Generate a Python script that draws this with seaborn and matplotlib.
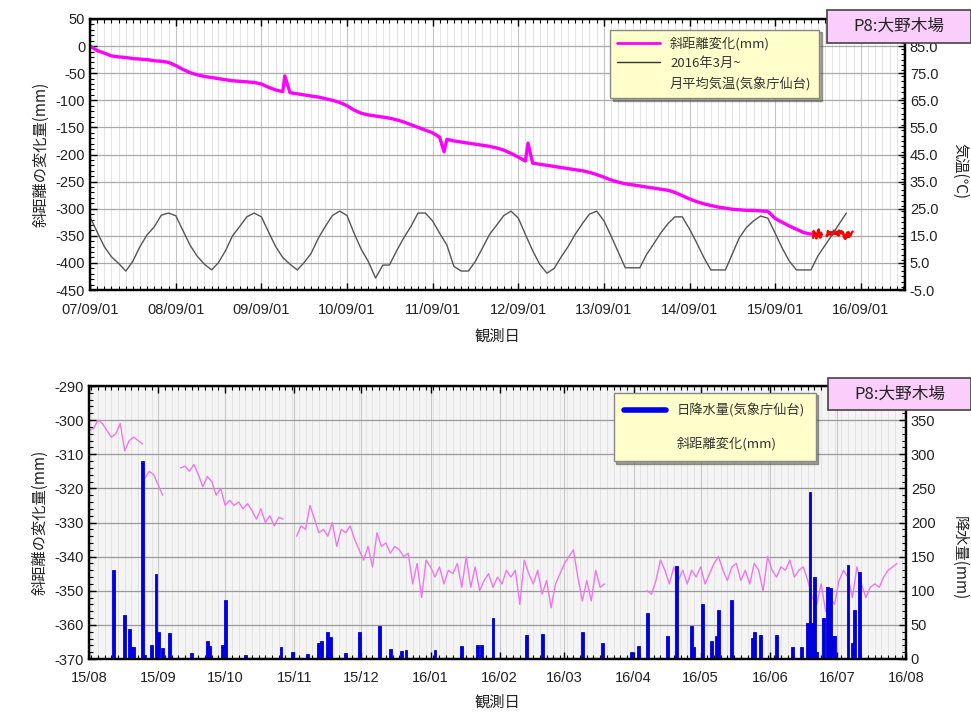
import pandas as pd
import seaborn as sns
import matplotlib
matplotlib.use("Agg")
import matplotlib.pyplot as plt
import matplotlib.dates as mdates
from matplotlib.ticker import MultipleLocator, FormatStrFormatter
from matplotlib.lines import Line2D
from matplotlib.patches import Rectangle

# ---------------- data ----------------
# top: monthly slope-distance change (mm), 2007-09 .. 2016-02
top_start = "2007-09-01"
top_disp = [0, -8, -13, -18,
            -20, -21, -23, -24, -25, -27, -28, -30, -36, -43, -49, -53,
            -56, -58, -60, -62, -64, -65, -66, -67, -70, -76, -81, -84,
            -86, -88, -90, -92, -94, -97, -100, -104, -110, -118, -124, -127,
            -129, -131, -133, -136, -140, -145, -150, -155, -160, -168, -172, -175,
            -177, -179, -181, -183, -185, -188, -192, -198, -205, -212, -216, -218,
            -220, -222, -224, -226, -228, -230, -233, -237, -242, -247, -251, -254,
            -256, -258, -260, -262, -264, -266, -270, -276, -282, -287, -291, -294,
            -297, -299, -301, -302, -303, -303, -304, -305, -318, -325, -332, -338,
            -344, -347]
# short spikes in the top record
spike_dates = ["2009-12-10", "2011-10-20", "2012-10-12"]
spike_vals = [-55, -195, -179]

# monthly mean air temperature (C), 2007-09 .. 2016-07
temp_start = "2007-09-01"
temp_c = [22.0, 16.5, 11.0, 7.3,
          4.8, 2.0, 5.5, 11.0, 15.3, 18.3, 22.6, 23.4, 22.4, 17.0, 11.5, 7.5,
          4.5, 2.4, 5.0, 9.5, 15.0, 18.5, 22.0, 23.4, 22.0, 16.5, 11.0, 7.0,
          4.5, 2.4, 5.0, 8.5, 14.0, 18.5, 22.5, 24.1, 22.5, 16.0, 10.0, 5.5,
          -0.6, 4.2, 4.2, 9.5, 14.2, 18.5, 23.4, 23.4, 20.5, 16.0, 11.6, 3.7,
          2.0, 2.0, 5.5, 10.5, 15.5, 19.0, 22.5, 24.1, 21.5, 15.5, 9.5, 4.5,
          1.2, 3.0, 7.0, 11.0, 15.5, 19.5, 23.0, 24.1, 20.5, 15.0, 9.0, 3.2,
          3.2, 3.2, 8.0, 12.0, 16.0, 19.5, 22.0, 22.0, 17.5, 12.5, 7.0, 2.4,
          2.4, 2.4, 8.0, 14.2, 18.0, 20.5, 22.3, 21.5, 16.0, 10.5, 5.6, 2.4,
          2.4, 2.4, 7.5, 11.5, 15.3, 19.5, 23.4]

# bottom: slope-distance change every 2 days, in segments (start date, values)
seg_starts = ["2015-08-01", "2015-08-26", "2015-09-11", "2015-11-02", "2016-04-07"]
seg_a = [-303, -302.5, -300, -301, -303, -305, -304, -301, -309, -306, -305, -306, -307]
seg_b = [-317, -315, -316, -319, -322]
seg_c = [-314, -313.5, -315, -313, -316, -319.5, -316.5, -318, -322, -320, -325, -323.5,
         -325, -324, -326, -324.5, -326.5, -329, -326, -330, -328, -331, -328.5, -329]
seg_d = [-334, -331, -332, -325, -329, -333, -332, -334, -330, -337, -332, -333, -331, -335,
         -338, -341, -337, -343, -333, -337, -336, -339, -337, -338, -340, -339, -348, -342,
         -352, -341, -343, -346, -343, -348, -344, -345, -342, -349, -340, -349, -343, -350,
         -347, -345, -349, -346, -348, -344, -346, -344, -354, -341, -345, -348, -344, -351,
         -347, -355, -348, -345, -342, -340, -338, -346, -353, -347, -353, -344, -349, -348]
seg_e = [-350, -351, -347, -341, -344, -348, -343, -347, -344, -348, -344, -346, -343, -348,
         -345, -342, -340, -344, -347, -343, -342, -347, -344, -348, -342, -344, -350, -340,
         -344, -346, -343, -344, -341, -346, -344, -343, -347, -352, -354, -348, -356, -352,
         -354, -347, -344, -346, -352, -343, -348, -352, -349, -348, -349, -346, -344, -343,
         -342]
segments = [seg_a, seg_b, seg_c, seg_d, seg_e]

# daily precipitation (mm)
rain_dates = ["2015-08-12", "2015-08-17", "2015-08-19", "2015-08-20", "2015-08-21", "2015-08-25",
              "2015-08-26", "2015-08-29", "2015-08-31", "2015-09-01", "2015-09-03", "2015-09-06",
              "2015-09-16", "2015-09-23", "2015-09-24", "2015-09-30", "2015-10-01", "2015-10-10",
              "2015-10-26", "2015-10-31", "2015-11-07", "2015-11-12", "2015-11-13", "2015-11-16",
              "2015-11-17", "2015-11-24", "2015-11-30", "2015-12-09", "2015-12-14", "2015-12-19",
              "2015-12-21", "2016-01-03", "2016-01-15", "2016-01-22", "2016-01-24", "2016-01-29",
              "2016-02-13", "2016-02-20", "2016-03-09", "2016-03-18", "2016-03-31", "2016-04-03",
              "2016-04-07", "2016-04-16", "2016-04-20", "2016-04-27", "2016-04-28", "2016-05-02",
              "2016-05-06", "2016-05-08", "2016-05-09", "2016-05-15", "2016-05-24", "2016-05-25",
              "2016-05-28", "2016-06-04", "2016-06-11", "2016-06-15", "2016-06-18", "2016-06-19",
              "2016-06-20", "2016-06-21", "2016-06-22", "2016-06-25", "2016-06-27", "2016-06-28",
              "2016-06-29", "2016-06-30", "2016-07-06", "2016-07-08", "2016-07-09", "2016-07-11"]
rain_mm = [131, 65, 44, 18, 18, 290, 6, 20, 125, 40, 16, 38,
           9, 27, 19, 20, 87, 6, 18, 10, 8, 23, 27, 40,
           32, 9, 40, 48, 15, 11, 13, 13, 19, 20, 20, 60,
           35, 37, 40, 23, 10, 19, 67, 33, 136, 48, 18, 80,
           27, 33, 72, 87, 31, 40, 35, 35, 18, 18, 53, 244,
           53, 120, 10, 60, 106, 104, 33, 33, 137, 23, 72, 128]

station = "P8:大野木場"

# ---------------- style ----------------
sns.set_style("ticks")
plt.rcParams['font.family'] = ['Liberation Sans', 'Noto Sans CJK JP', 'DejaVu Sans']
plt.rcParams['axes.unicode_minus'] = False
txt = "#222222"
jp = ['Noto Sans CJK JP', 'DejaVu Sans']

fig = plt.figure(figsize=(9.71, 7.15), dpi=100)

# ================= top chart =================
ax1 = fig.add_axes([90 / 971, 1 - 290 / 715, 815 / 971, 271 / 715])
axT = ax1.twinx()

top_dates = list(pd.date_range(top_start, periods=len(top_disp), freq="MS"))
top_df = pd.DataFrame({"date": top_dates + list(pd.to_datetime(spike_dates)),
                       "disp": top_disp + spike_vals}).sort_values("date")
sns.lineplot(data=top_df, x="date", y="disp", ax=ax1, color="#FF00FF", lw=2.4, sort=True)

# recent data (red) taken from the detailed record
red_d = pd.date_range(seg_starts[3], periods=len(seg_d), freq="2D")
red_mask = red_d >= pd.Timestamp("2016-02-10")
sns.lineplot(x=red_d[red_mask], y=pd.Series(seg_d)[red_mask].values, ax=ax1,
             color="#FF0000", lw=1.6)
sns.lineplot(x=pd.date_range(seg_starts[4], periods=len(seg_e), freq="2D"), y=seg_e,
             ax=ax1, color="#FF0000", lw=1.6)

temp_dates = pd.date_range(temp_start, periods=len(temp_c), freq="MS")
sns.lineplot(x=temp_dates, y=temp_c, ax=axT, color="#555555", lw=1.0)

ax1.set_xlim(pd.Timestamp("2007-09-01"), pd.Timestamp("2017-03-08"))
ax1.set_ylim(-450, 50)
axT.set_ylim(-5, 95)
ax1.yaxis.set_major_locator(MultipleLocator(50))
ax1.yaxis.set_minor_locator(MultipleLocator(10))
axT.set_yticks([-5 + 10 * i for i in range(10)])
axT.yaxis.set_minor_locator(MultipleLocator(2))
axT.yaxis.set_major_formatter(FormatStrFormatter("%.1f"))
ax1.xaxis.set_major_locator(mdates.MonthLocator(bymonth=9, bymonthday=1))
ax1.xaxis.set_minor_locator(mdates.MonthLocator())
ax1.xaxis.set_major_formatter(mdates.DateFormatter("%y/%m/%d"))

ax1.set_axisbelow(True)
ax1.grid(which="minor", axis="x", color="#dedede", lw=0.6)
ax1.grid(which="major", axis="x", color="#c4c4c4", lw=0.8)
ax1.grid(which="major", axis="y", color="#a8a8a8", lw=0.9)

ax1.set_xlabel("観測日", fontsize=11, color=txt, labelpad=8, family=jp)
ax1.set_ylabel("斜距離の変化量(mm)", fontsize=11, color=txt, labelpad=4, family=jp)
axT.set_ylabel("気温(℃)", fontsize=11, color=txt, rotation=270, family=jp,
               va="center", ha="center")
axT.yaxis.set_label_coords(1.067, 0.44)

# ================= bottom chart =================
ax3 = fig.add_axes([89 / 971, 1 - 659 / 715, 817 / 971, 273 / 715])
ax4 = ax3.twinx()
ax3.set_facecolor("#f4f4f4")

for start, vals in zip(seg_starts, segments):
    d = pd.date_range(start, periods=len(vals), freq="2D")
    sns.lineplot(x=d, y=vals, ax=ax3, color="#EE77EE", lw=1.0)

ax4.bar(pd.to_datetime(rain_dates), rain_mm, width=1.3, color="#0000DD",
        edgecolor="#0000DD", lw=0.6, align="center")

ax3.set_xlim(pd.Timestamp("2015-08-01"), pd.Timestamp("2016-08-01"))
ax3.set_ylim(-370, -290)
ax4.set_ylim(0, 400)
ax3.yaxis.set_major_locator(MultipleLocator(10))
ax3.yaxis.set_minor_locator(MultipleLocator(2))
ax4.set_yticks(range(0, 400, 50))
ax4.yaxis.set_minor_locator(MultipleLocator(10))
ax3.xaxis.set_major_locator(mdates.MonthLocator())
ax3.xaxis.set_minor_locator(mdates.DayLocator(interval=3))
ax3.xaxis.set_major_formatter(mdates.DateFormatter("%y/%m"))

ax3.set_axisbelow(True)
ax3.grid(which="minor", axis="x", color="#e0e0e0", lw=0.6)
ax3.grid(which="major", axis="x", color="#c8c8c8", lw=0.8)
ax3.grid(which="major", axis="y", color="#9a9a9a", lw=0.9)

ax3.set_xlabel("観測日", fontsize=11, color=txt, labelpad=6, family=jp)
ax3.set_ylabel("斜距離の変化量(mm)", fontsize=11, color=txt, labelpad=4, family=jp)
ax4.set_ylabel("降水量(mm)", fontsize=11, color=txt, rotation=270, family=jp,
               va="center", ha="center")
ax4.yaxis.set_label_coords(1.066, 0.37)

# ---------- common axis styling ----------
for a in (ax1, axT, ax3, ax4):
    for s in a.spines.values():
        s.set_linewidth(1.6)
        s.set_color("black")
    a.tick_params(which="both", direction="in", labelsize=10.5, colors="black",
                  labelcolor=txt)
    a.tick_params(which="major", length=5, width=1.0)
    a.tick_params(which="minor", length=3, width=0.8)
for a in (ax1, ax3):
    a.tick_params(axis="x", which="both", top=True)
    a.tick_params(axis="x", which="major", pad=9)

# ---------- legends ----------
h_top = [Line2D([], [], color="#FF00FF", lw=2.0),
         Line2D([], [], color="#333333", lw=1.0),
         Line2D([], [], color="none")]
l_top = ["斜距離変化(mm)", "2016年3月~", "月平均気温(気象庁仙台)"]
leg = axT.legend(h_top, l_top, loc="upper left", bbox_to_anchor=(0.63, 0.985),
                 frameon=True, fancybox=False, shadow=True,
                 handlelength=3.2, labelspacing=0.5, borderpad=0.55,
                 prop={'family': jp, 'size': 9.5})
leg.get_frame().set_facecolor("#FFFFCC")
leg.get_frame().set_edgecolor("#888888")
for t in leg.get_texts():
    t.set_color("#333333")

h_bot = [Line2D([], [], color="#0000EE", lw=4.0),
         Line2D([], [], color="none")]
l_bot = ["日降水量(気象庁仙台)", "斜距離変化(mm)"]
leg2 = ax4.legend(h_bot, l_bot, loc="upper left", bbox_to_anchor=(0.634, 1.0),
                  frameon=True, fancybox=False, shadow=True,
                  handlelength=3.2, labelspacing=1.5, borderpad=0.8,
                  prop={'family': jp, 'size': 9.5})
leg2.get_frame().set_facecolor("#FFFFCC")
leg2.get_frame().set_edgecolor("#888888")
for t in leg2.get_texts():
    t.set_color("#333333")

# ---------- station label boxes ----------
for (x0, y0, y1) in [(827, 10, 43), (828, 378, 410)]:
    fig.add_artist(Rectangle((x0 / 971, 1 - y1 / 715), (971 - x0) / 971, (y1 - y0) / 715,
                             transform=fig.transFigure, facecolor="#FBCDFB",
                             edgecolor="#444444", lw=1.2, zorder=10))
    fig.text((x0 + 971) / 2 / 971, 1 - (y0 + y1) / 2 / 715, station, ha="center",
             va="center", fontsize=12, color="#222222", zorder=11, family=jp)

fig.savefig("out.png", dpi=100)
